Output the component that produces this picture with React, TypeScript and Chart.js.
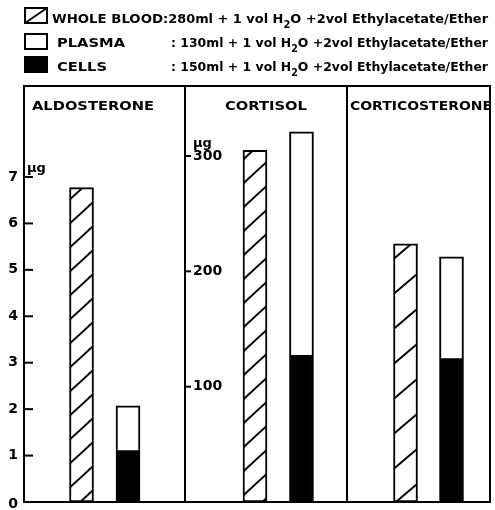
import { useEffect, useRef } from 'react';
import { Chart, registerables } from 'chart.js';

Chart.register(...registerables);

// ---- data ----
const panels = ['ALDOSTERONE', 'CORTISOL', 'CORTICOSTERONE'];
const wholeBlood = [6.77, 305, 5.56];
const cells = [1.08, 126, 3.06];
const plasma = [0.99, 195, 2.22];
const aldoTicks = [0, 1, 2, 3, 4, 5, 6, 7];
const cortTicks = [100, 200, 300];
const unitLabel = 'µg';
const legendNames = ['WHOLE BLOOD', 'PLASMA', 'CELLS'];
const legendVolumes = ['280ml', '130ml', '150ml'];

const FONT = '"DejaVu Sans", "Noto Sans", sans-serif';

function makeHatch(w: number, h: number, lw: number) {
  const c = document.createElement('canvas');
  c.width = w;
  c.height = h;
  const g = c.getContext('2d')!;
  g.fillStyle = '#fff';
  g.fillRect(0, 0, w, h);
  g.strokeStyle = '#000';
  g.lineWidth = lw;
  for (const dx of [-w, 0, w]) {
    g.beginPath();
    g.moveTo(dx - 2, h + (2 * h) / w);
    g.lineTo(dx + w + 2, -(2 * h) / w);
    g.stroke();
  }
  return g.createPattern(c, 'repeat')!;
}

type Seg = { t: string; sub?: boolean };

function drawFitted(ctx: CanvasRenderingContext2D, segs: Seg[], x: number, y: number, width: number, size: number) {
  const main = `bold ${size}px ${FONT}`;
  const subf = `bold ${Math.round(size * 0.75)}px ${FONT}`;
  let total = 0;
  const widths: number[] = [];
  for (const s of segs) {
    ctx.font = s.sub ? subf : main;
    const w = ctx.measureText(s.t).width;
    widths.push(w);
    total += w;
  }
  const sx = width / total;
  ctx.save();
  ctx.translate(x, y);
  ctx.scale(sx, 1);
  ctx.textAlign = 'left';
  ctx.textBaseline = 'alphabetic';
  let cx = 0;
  segs.forEach((s, i) => {
    ctx.font = s.sub ? subf : main;
    ctx.fillText(s.t, cx, s.sub ? 5 : 0);
    cx += widths[i];
  });
  ctx.restore();
}

const framePlugin = {
  id: 'framePlugin',
  afterDraw(chart: any) {
    const ctx: CanvasRenderingContext2D = chart.ctx;
    const { left, right, top, bottom } = chart.chartArea;
    const xA = chart.scales.xA;
    const xC = chart.scales.xC;
    const yA = chart.scales.yA;
    const yC = chart.scales.yC;
    ctx.save();
    ctx.strokeStyle = '#000';
    ctx.fillStyle = '#000';
    ctx.lineWidth = 2;
    // frame
    ctx.strokeRect(left, top, right - left, bottom - top);
    ctx.beginPath();
    ctx.moveTo(xA.right, top);
    ctx.lineTo(xA.right, bottom);
    ctx.moveTo(xC.right, top);
    ctx.lineTo(xC.right, bottom);
    ctx.stroke();

    // aldosterone axis ticks
    ctx.font = `bold 14px ${FONT}`;
    ctx.textAlign = 'right';
    ctx.textBaseline = 'middle';
    for (const v of aldoTicks) {
      const y = yA.getPixelForValue(v);
      if (v > 0) {
        ctx.beginPath();
        ctx.moveTo(left, y);
        ctx.lineTo(left + 9, y);
        ctx.stroke();
      }
      ctx.fillText(String(v), left - 6, v === 0 ? y + 2 : y);
    }
    ctx.font = `bold 13px ${FONT}`;
    ctx.textAlign = 'left';
    ctx.textBaseline = 'alphabetic';
    ctx.fillText(unitLabel, left + 3, yA.getPixelForValue(aldoTicks[aldoTicks.length - 1]) - 5);

    // cortisol axis ticks (inside panel 2)
    const cx = xC.left;
    ctx.font = `bold 14px ${FONT}`;
    ctx.textBaseline = 'middle';
    for (const v of cortTicks) {
      const y = yC.getPixelForValue(v);
      ctx.beginPath();
      ctx.moveTo(cx, y);
      ctx.lineTo(cx + 6, y);
      ctx.stroke();
      ctx.fillText(String(v), cx + 8, y);
    }
    ctx.font = `bold 13px ${FONT}`;
    ctx.textBaseline = 'alphabetic';
    ctx.fillText(unitLabel, cx + 8, yC.getPixelForValue(cortTicks[cortTicks.length - 1]) - 9);

    // panel titles
    const titleX = [left + 8, xC.left + 40, xC.right + 3];
    const titleW = [122, 82, 142];
    panels.forEach((p, i) => drawFitted(ctx, [{ t: p }], titleX[i], top + 24, titleW[i], 13));

    // legend
    const boxY = [8, 34, 57];
    const boxX = 25;
    const bw = 22;
    const bh = 15;
    // whole blood swatch
    ctx.strokeRect(boxX, boxY[0], bw, bh);
    ctx.beginPath();
    ctx.moveTo(boxX, boxY[0] + bh);
    ctx.lineTo(boxX + bw, boxY[0]);
    ctx.stroke();
    // plasma swatch
    ctx.fillStyle = '#fff';
    ctx.fillRect(boxX, boxY[1], bw, bh);
    ctx.strokeRect(boxX, boxY[1], bw, bh);
    // cells swatch
    ctx.fillStyle = '#000';
    ctx.fillRect(boxX - 1, boxY[2] - 1, bw + 2, bh + 2);

    const baselines = [23, 47, 71];
    const nameX = [52, 57, 57];
    const nameW = [111, 68, 50];
    legendNames.forEach((n, i) => {
      drawFitted(ctx, [{ t: n }], nameX[i], baselines[i], nameW[i], 13);
      const rest: Seg[] = [
        { t: (i === 0 ? ':' : ': ') + legendVolumes[i] + ' + 1 vol H' },
        { t: '2', sub: true },
        { t: 'O +2vol Ethylacetate/Ether' },
      ];
      const rx = i === 0 ? 163 : 171;
      drawFitted(ctx, rest, rx, baselines[i], 488 - rx, 13);
    });
    ctx.restore();
  },
};

export default function App() {
  const ref = useRef<HTMLCanvasElement>(null);
  useEffect(() => {
    document.body.style.margin = '0';
    const hatch = makeHatch(26, 24, 2);
    const hatchWide = makeHatch(41, 35, 2);
    const xIds = ['xA', 'xC', 'xK'];
    const yIds = ['yA', 'yC', 'yA'];
    const common = {
      borderColor: '#000',
      borderWidth: 2,
      borderSkipped: false as const,
      barThickness: 24,
      grouped: false,
    };
    const datasets: any[] = [];
    panels.forEach((p, i) => {
      datasets.push({
        ...common,
        label: `${legendNames[0]} – ${p}`,
        data: [{ x: 0, y: wholeBlood[i] }],
        xAxisID: xIds[i],
        yAxisID: yIds[i],
        stack: 'whole' + i,
        backgroundColor: i === 2 ? hatchWide : hatch,
      });
      datasets.push({
        ...common,
        label: `${legendNames[2]} – ${p}`,
        data: [{ x: 1, y: cells[i] }],
        xAxisID: xIds[i],
        yAxisID: yIds[i],
        stack: 'frac' + i,
        backgroundColor: '#000',
      });
      datasets.push({
        ...common,
        label: `${legendNames[1]} – ${p}`,
        data: [{ x: 1, y: plasma[i] }],
        xAxisID: xIds[i],
        yAxisID: yIds[i],
        stack: 'frac' + i,
        backgroundColor: '#fff',
      });
    });
    const xAxis = (min: number, max: number, weight: number) => ({
      type: 'linear' as const,
      display: false,
      position: 'bottom' as const,
      stack: 'panels',
      stackWeight: weight,
      offset: false,
      min,
      max,
      ticks: { stepSize: 1 },
    });
    const chart = new Chart(ref.current!, {
      type: 'bar',
      data: { datasets },
      options: {
        animation: false,
        responsive: false,
        maintainAspectRatio: false,
        events: [],
        layout: { padding: { left: 24, right: 5, top: 86, bottom: 8 } },
        plugins: { legend: { display: false }, tooltip: { enabled: false }, title: { display: false } },
        scales: {
          xA: xAxis(-1.237, 2.226, 161),
          xC: xAxis(-1.505, 1.979, 162),
          xK: xAxis(-1.272, 1.837, 143),
          yA: { type: 'linear', display: false, position: 'left', stacked: true, min: 0, max: 8.96 },
          yC: { type: 'linear', display: false, position: 'left', stacked: true, min: 0, max: 360.7 },
        },
      } as any,
      plugins: [framePlugin],
    });
    return () => chart.destroy();
  }, []);
  return (
    <div style={{ width: 495, height: 510, background: '#fff' }}>
      <canvas ref={ref} width={495} height={510} style={{ display: 'block' }} />
    </div>
  );
}
